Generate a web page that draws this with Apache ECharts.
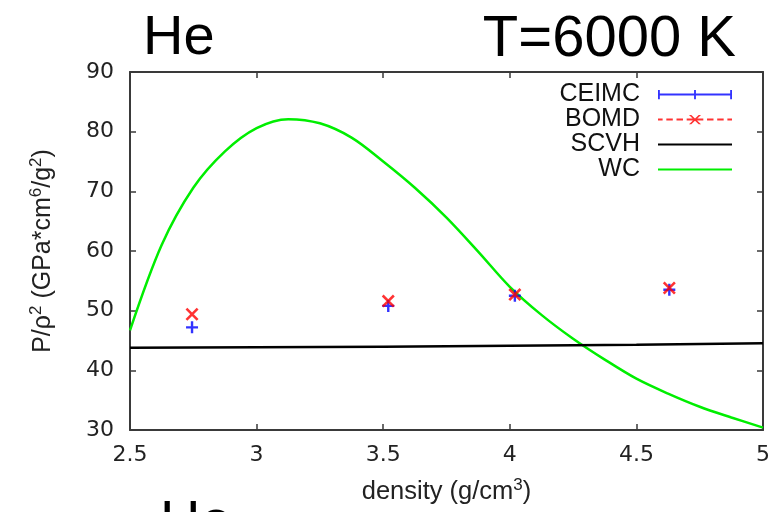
<!DOCTYPE html>
<html>
<head>
<meta charset="utf-8">
<script src="https://cdn.jsdelivr.net/npm/echarts@6/dist/echarts.min.js"></script>
<style>
  html, body { margin: 0; padding: 0; background: #fff; }
  #chart { width: 782px; height: 512px; }
</style>
</head>
<body>
<div id="chart"></div>
<script>
'use strict';

// x positions of the simulation points (g/cm^3)
const densities = [2.745, 3.52, 4.02, 4.63];
const ceimcValues = [47.2, 50.8, 52.5, 53.5];
const bomdValues = [49.4, 51.6, 52.7, 53.8];

// SCVH curve
const scvhDensity = [2.5, 3.0, 3.5, 4.0, 4.5, 5.0];
const scvhValues = [43.8, 43.85, 43.95, 44.1, 44.3, 44.55];

// WC curve, read every 0.125 g/cm^3
const wcDensity = [2.5, 2.625, 2.75, 2.875, 3.0, 3.125, 3.25, 3.375, 3.5, 3.625, 3.75, 3.875, 4.0, 4.125, 4.25, 4.375, 4.5, 4.625, 4.75, 4.875, 5.0];
const wcValues = [46.7, 61.0, 70.6, 76.7, 80.6, 82.1, 81.4, 79.0, 75.0, 70.6, 65.6, 59.9, 54.0, 49.3, 45.3, 41.8, 38.6, 36.1, 33.9, 32.1, 30.4];

const seriesNames = ['CEIMC', 'BOMD', 'SCVH', 'WC'];

const zip = (xs, ys) => xs.map((x, i) => [x, ys[i]]);

// legend icons, all in an 80x10 box
const corners = 'M0,0h0.1v0.1h-0.1z M79.9,9.9h0.1v0.1h-0.1z ';
const iconCeimc = 'path://' + corners + 'M0,4h80v2.2h-80z M0,0h2v10h-2z M39,0h2v10h-2z M78,0h2v10h-2z';
const iconBomd = 'path://' + corners + 'M0,4h5v2h-5z M9,4h7v2h-7z M20,4h7v2h-7z M53,4h7v2h-7z M64,4h7v2h-7z M75,4h5v2h-5z M31,4h18v2h-18z ' +
  'M33.5,0 L36,0 L46.5,10 L44,10 Z M44,0 L46.5,0 L36,10 L33.5,10 Z';
const iconLine = 'path://' + corners + 'M0,3.8h80v2.4h-80z';

const plusSymbol = 'path://M4,0h2v10h-2z M0,4h10v2h-10z';
const crossSymbol = 'path://M0,1.4 L1.4,0 L10,8.6 L8.6,10Z M8.6,0 L10,1.4 L1.4,10 L0,8.6Z';

const chart = echarts.init(document.getElementById('chart'));

const axisLine = { show: true, lineStyle: { color: '#3a3a3a', width: 2 } };
const axisTick = { show: true, inside: true, length: 6, lineStyle: { color: '#3a3a3a', width: 1.5 } };
const labelFont = { fontFamily: 'DejaVu Sans', fontSize: 22, color: '#222' };

const option = {
  animation: false,
  backgroundColor: '#fff',
  grid: { left: 130, right: 19, top: 72, bottom: 82 },
  graphic: [
    { type: 'text', left: 143, top: 11, style: { text: 'He', font: '56px "Liberation Sans"', fill: '#000' } },
    { type: 'text', right: 46, top: 11, style: { text: 'T=6000 K', font: '58px "Liberation Sans"', fill: '#000' } },
    { type: 'text', left: 160, top: 496, style: { text: 'He', font: '56px "Liberation Sans"', fill: '#000' } }
  ],
  legend: {
    orient: 'vertical',
    right: 45,
    top: 77,
    align: 'right',
    itemWidth: 74,
    itemHeight: 10,
    itemGap: 0,
    textStyle: { fontFamily: 'Liberation Sans', fontSize: 25, color: '#111', lineHeight: 22, padding: [0, 13, 0, 0] },
    data: [
      { name: seriesNames[0], icon: iconCeimc },
      { name: seriesNames[1], icon: iconBomd },
      { name: seriesNames[2], icon: iconLine },
      { name: seriesNames[3], icon: iconLine }
    ]
  },
  xAxis: [{
    type: 'value',
    min: 2.5,
    max: 5,
    interval: 0.5,
    axisLine: axisLine,
    axisTick: axisTick,
    splitLine: { show: false },
    axisLabel: Object.assign({ margin: 14 }, labelFont),
    name: '{a|density (g/cm}{s|3}{a|)}',
    nameLocation: 'middle',
    nameGap: 47,
    nameTextStyle: {
      rich: {
        a: { fontFamily: 'Liberation Sans', fontSize: 25.5, color: '#222', lineHeight: 29 },
        s: { fontFamily: 'Liberation Sans', fontSize: 17, color: '#222', verticalAlign: 'top', lineHeight: 29 }
      }
    }
  }, {
    type: 'value',
    position: 'top',
    min: 2.5,
    max: 5,
    interval: 0.5,
    axisLine: axisLine,
    axisTick: axisTick,
    axisLabel: { show: false },
    splitLine: { show: false }
  }],
  yAxis: [{
    type: 'value',
    min: 30,
    max: 90,
    interval: 10,
    axisLine: axisLine,
    axisTick: axisTick,
    splitLine: { show: false },
    axisLabel: Object.assign({ margin: 16 }, labelFont),
    name: '{a|P/ρ}{s|2}{a| (GPa*cm}{s|6}{a|/g}{s|2}{a|)}',
    nameLocation: 'middle',
    nameRotate: 90,
    nameGap: 72,
    nameTextStyle: {
      rich: {
        a: { fontFamily: 'Liberation Sans', fontSize: 25, color: '#222', lineHeight: 30 },
        s: { fontFamily: 'Liberation Sans', fontSize: 17, color: '#222', verticalAlign: 'top', lineHeight: 30 }
      }
    }
  }, {
    type: 'value',
    position: 'right',
    min: 30,
    max: 90,
    interval: 10,
    axisLine: axisLine,
    axisTick: axisTick,
    axisLabel: { show: false },
    splitLine: { show: false }
  }],
  series: [
    {
      name: seriesNames[3],
      type: 'line',
      color: '#00ee00',
      data: zip(wcDensity, wcValues),
      showSymbol: false,
      symbol: 'none',
      smooth: 0.33,
      lineStyle: { color: '#00ee00', width: 2.5 },
      z: 2
    },
    {
      name: seriesNames[2],
      type: 'line',
      color: '#000',
      data: zip(scvhDensity, scvhValues),
      showSymbol: false,
      symbol: 'none',
      smooth: true,
      lineStyle: { color: '#000', width: 2.5 },
      z: 3
    },
    {
      name: seriesNames[0],
      type: 'scatter',
      color: '#0000ff',
      data: zip(densities, ceimcValues),
      symbol: plusSymbol,
      symbolSize: 12,
      itemStyle: { color: '#0000ff' },
      z: 4
    },
    {
      name: seriesNames[1],
      type: 'scatter',
      color: '#ff0000',
      data: zip(densities, bomdValues),
      symbol: crossSymbol,
      symbolSize: 13,
      itemStyle: { color: '#ff0000' },
      z: 5
    }
  ]
};

chart.setOption(option);
</script>
</body>
</html>
